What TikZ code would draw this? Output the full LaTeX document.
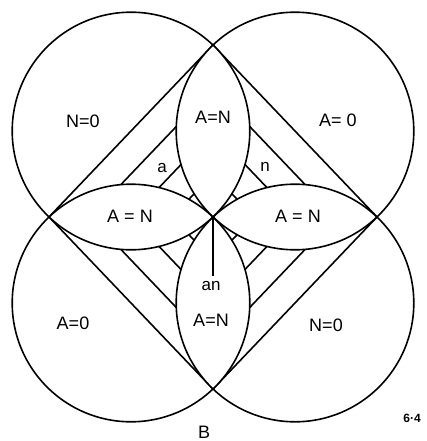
\documentclass[tikz,border=0pt]{standalone}
\usepackage{fontspec}
\setmainfont{Liberation Sans}
\usetikzlibrary{calc}
\begin{document}
\begin{tikzpicture}[x=1pt,y=-1pt,line width=1.6pt,
  lbl/.style={font=\fontsize{18}{18}\selectfont,inner sep=0pt},
  sml/.style={font=\fontsize{17}{17}\selectfont,inner sep=0pt}]
\useasboundingbox (0,0) rectangle (426,441);
\def\R{118.8pt}
\coordinate (C) at (213,217);
\coordinate (cTL) at (131,131);
\coordinate (cTR) at (295,131);
\coordinate (cBL) at (131,303);
\coordinate (cBR) at (295,303);
\coordinate (T) at (213,45);
\coordinate (L) at (49,217);
\coordinate (Rp) at (377,217);
\coordinate (Bp) at (213,389);
% chords in each quadrant, clipped to the quadrant region
\foreach \cen/\oa/\ob/\pa/\pb in {cTL/cTR/cBL/L/T, cTR/cTL/cBR/T/Rp, cBL/cTL/cBR/L/Bp, cBR/cTR/cBL/Rp/Bp}{
  \begin{scope}
    \clip (\cen) circle[radius=\R];
    \begin{scope}[even odd rule]
    \clip (-50,-50) rectangle (500,500) (\oa) circle[radius=\R] (\ob) circle[radius=\R];
    \foreach \s in {1,0.75,0.5,0.25}{
      \coordinate (ca) at ($(C)!\s!(\pa)$);
      \coordinate (cb) at ($(C)!\s!(\pb)$);
      \draw ($(ca)!-0.4!(cb)$) -- ($(ca)!1.4!(cb)$);
    }
    \end{scope}
  \end{scope}
}
% circles
\draw (cTL) circle[radius=\R];
\draw (cTR) circle[radius=\R];
\draw (cBL) circle[radius=\R];
\draw (cBR) circle[radius=\R];
% vertical stub
\coordinate (V) at (213,276);
\draw[line width=2pt] (C) -- (V);
% labels
\node[lbl] (nTL) at (83,121) {N=0};
\node[lbl] (nTop) at (213,117) {A=N};
\node[lbl] (nTR) at (338,120) {A= 0};
\node[sml] (na) at (162,168) {a};
\node[sml] (nn) at (265,167) {n};
\node[lbl] (nLeft) at (130,216) {A = N};
\node[lbl] (nRight) at (298,216) {A = N};
\node[sml] (nan) at (211,286) {an};
\node[lbl] (nBot) at (211,320) {A=N};
\node[lbl] (nBL) at (73,323) {A=0};
\node[lbl] (nBR) at (326,325) {N=0};
\node[lbl] (nB) at (204,432) {B};
\node[font=\fontsize{12}{12}\selectfont\bfseries,inner sep=0pt] (n64) at (412,418) {6·4};
\end{tikzpicture}
\end{document}
